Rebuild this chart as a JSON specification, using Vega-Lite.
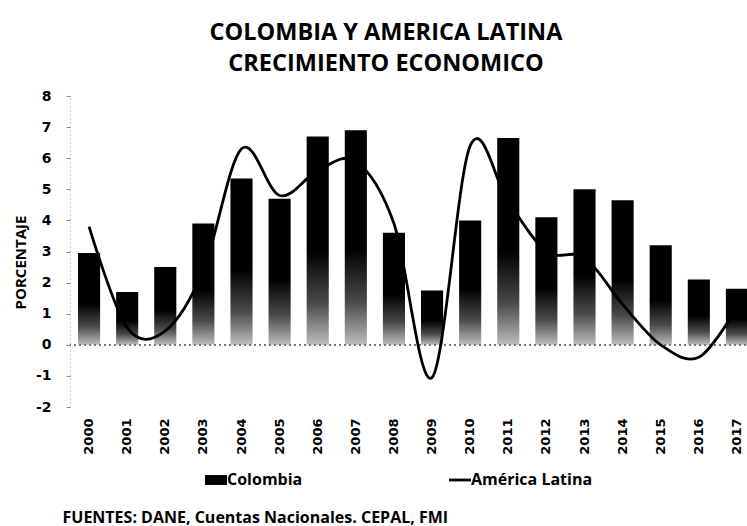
{
  "$schema": "https://vega.github.io/schema/vega-lite/v6.json",
  "autosize": {"type": "none"},
  "width": 686,
  "height": 311,
  "padding": {"left": 70, "right": -9, "top": 96, "bottom": 119},
  "background": "white",
  "title": {
    "text": ["COLOMBIA Y AMERICA LATINA", "CRECIMIENTO ECONOMICO"],
    "font": "Open Sans",
    "fontSize": 23.5,
    "fontWeight": "bold",
    "lineHeight": 31,
    "anchor": "middle",
    "frame": "group",
    "dx": -27,
    "offset": 14,
    "color": "black"
  },
  "config": {
    "view": {"stroke": null},
    "axis": {"grid": false}
  },
  "resolve": {"axis": {"y": "independent"}},
  "data": {
    "values": [
      {"year": "2000", "colombia": 2.95, "america_latina": 3.8},
      {"year": "2001", "colombia": 1.7, "america_latina": 0.55},
      {"year": "2002", "colombia": 2.5, "america_latina": 0.45},
      {"year": "2003", "colombia": 3.9, "america_latina": 2.4},
      {"year": "2004", "colombia": 5.35, "america_latina": 6.3},
      {"year": "2005", "colombia": 4.7, "america_latina": 4.8},
      {"year": "2006", "colombia": 6.7, "america_latina": 5.6},
      {"year": "2007", "colombia": 6.9, "america_latina": 5.9},
      {"year": "2008", "colombia": 3.6, "america_latina": 3.9},
      {"year": "2009", "colombia": 1.75, "america_latina": -1.05},
      {"year": "2010", "colombia": 4.0, "america_latina": 6.4},
      {"year": "2011", "colombia": 6.65, "america_latina": 4.6},
      {"year": "2012", "colombia": 4.1, "america_latina": 3.0},
      {"year": "2013", "colombia": 5.0, "america_latina": 2.8},
      {"year": "2014", "colombia": 4.65, "america_latina": 1.3},
      {"year": "2015", "colombia": 3.2, "america_latina": 0.0},
      {"year": "2016", "colombia": 2.1, "america_latina": -0.4},
      {"year": "2017", "colombia": 1.8, "america_latina": 1.2}
    ]
  },
  "layer": [
    {
      "mark": {
        "type": "bar",
        "fill": {
          "gradient": "linear",
          "x1": 0, "y1": 0, "x2": 0, "y2": 1,
          "stops": [
            {"offset": 0, "color": "#000000"},
            {"offset": 0.55, "color": "#000000"},
            {"offset": 0.8, "color": "#4a4a4a"},
            {"offset": 1, "color": "#bdbdbd"}
          ]
        }
      },
      "encoding": {
        "x": {
          "field": "year",
          "type": "ordinal",
          "scale": {"paddingInner": 0.42, "paddingOuter": 0.21},
          "axis": {
            "title": "FUENTES: DANE, Cuentas Nacionales. CEPAL, FMI",
            "labelAngle": -90,
            "labelFont": "DejaVu Sans",
            "labelFontWeight": "bold",
            "labelFontSize": 13,
            "labelColor": "black",
            "labelPadding": 11,
            "ticks": false,
            "domain": false,
            "titleFont": "Open Sans",
            "titleFontSize": 16,
            "titleFontWeight": "bold",
            "titleColor": "black",
            "titleAnchor": "start",
            "titleAlign": "left",
            "titleBaseline": "middle",
            "titleX": -8,
            "titleY": 110
          }
        },
        "y": {
          "field": "colombia",
          "type": "quantitative",
          "scale": {"domain": [-2, 8], "nice": false},
          "axis": {
            "orient": "left",
            "title": "PORCENTAJE",
            "titleFont": "Open Sans",
            "titleFontSize": 15,
            "titleFontWeight": "bold",
            "titleColor": "black",
            "titleAngle": 270,
            "titleAlign": "center",
            "titleBaseline": "middle",
            "titleX": -50,
            "titleY": 166,
            "values": [-2, 0, 2, 4, 6, 8],
            "labelOverlap": false,
            "labelExpr": "'' + datum.value",
            "labelFont": "DejaVu Sans",
            "labelFontWeight": "bold",
            "labelFontSize": 14,
            "labelColor": "black",
            "labelPadding": 15,
            "tickSize": 4,
            "tickColor": "#888888",
            "domainColor": "#aaaaaa",
            "domainDash": [1, 3]
          }
        }
      }
    },
    {
      "mark": {"type": "rule", "stroke": "#777777", "strokeDash": [2, 3], "strokeWidth": 1},
      "encoding": {"y": {"datum": 0, "axis": null}}
    },
    {
      "mark": {"type": "line", "interpolate": "cardinal", "strokeWidth": 2.8},
      "encoding": {
        "x": {"field": "year", "type": "ordinal"},
        "y": {
          "field": "america_latina",
          "type": "quantitative",
          "axis": {
            "orient": "left",
            "title": null,
            "values": [-1, 1, 3, 5, 7],
            "labelOverlap": false,
            "labelExpr": "'' + datum.value",
            "labelFont": "DejaVu Sans",
            "labelFontWeight": "bold",
            "labelFontSize": 14,
            "labelColor": "black",
            "labelPadding": 15,
            "tickSize": 4,
            "tickColor": "#888888",
            "domain": false
          }
        },
        "color": {
          "datum": "América Latina",
          "scale": {"domain": ["Colombia", "América Latina"], "range": ["black", "black"]},
          "legend": {
            "title": null,
            "orient": "none",
            "direction": "horizontal",
            "legendX": 138,
            "legendY": 376,
            "columnPadding": 140,
            "labelFont": "Open Sans",
            "labelFontWeight": "bold",
            "labelFontSize": 16,
            "labelColor": "black",
            "labelOffset": 3,
            "symbolSize": 484,
            "symbolStrokeWidth": 2.8,
            "encode": {
              "symbols": {
                "update": {
                  "shape": {"signal": "datum.value === 'Colombia' ? 'M-1,-0.45H1V0.45H-1Z' : 'stroke'"},
                  "fill": {"signal": "datum.value === 'Colombia' ? 'black' : 'transparent'"},
                  "stroke": {"value": "black"},
                  "strokeWidth": {"signal": "datum.value === 'Colombia' ? 0 : 2.8"}
                }
              }
            }
          }
        }
      }
    }
  ]
}
